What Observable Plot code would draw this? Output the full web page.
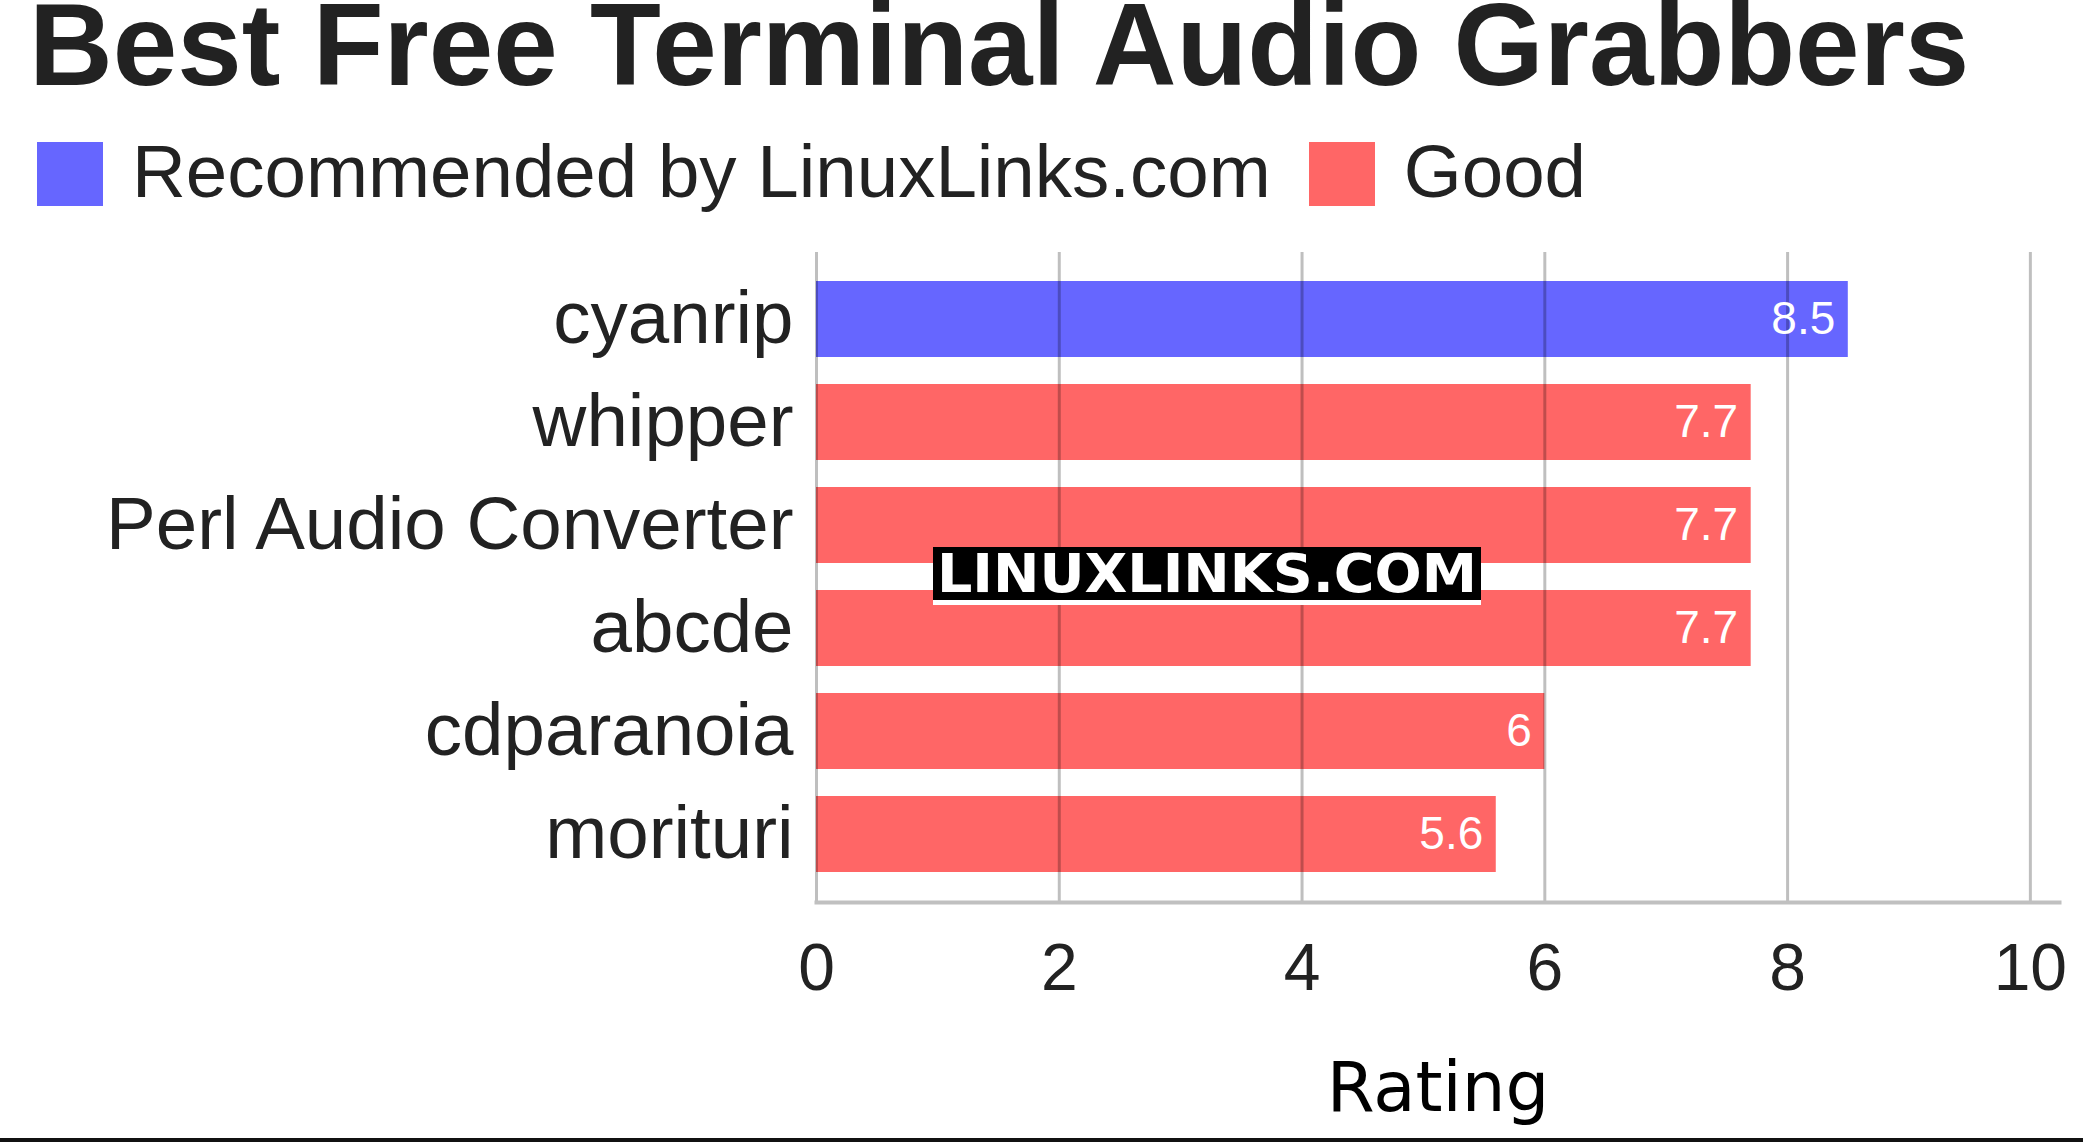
<!DOCTYPE html>
<html>
<head>
<meta charset="utf-8">
<script src="https://cdn.jsdelivr.net/npm/d3@7"></script>
<script src="https://cdn.jsdelivr.net/npm/@observablehq/plot@0.6"></script>
<style>
  html, body { margin: 0; padding: 0; background: #fff; }
  #page { position: relative; width: 2083px; height: 1143px; overflow: hidden; background: #fff; font-family: "Liberation Sans", Arial, sans-serif; }
  #title { position: absolute; left: 29px; top: 0px; font-size: 116px; font-weight: bold; line-height: 0.79; color: #222; white-space: nowrap; }
  #legend { position: absolute; left: 37px; top: 135px; display: flex; align-items: flex-start; }
  .item { display: flex; align-items: flex-start; margin-right: 38px; }
  .sw { width: 66px; height: 64px; margin-top: 7px; margin-right: 29px; }
  .lab { font-size: 74.5px; line-height: 1; color: #222; white-space: nowrap; }
  #chart { position: absolute; left: 0; top: 230px; }
  #wm { position: absolute; left: 933px; top: 547px; width: 548px; height: 53px; background: #000; border-bottom: 5px solid #fff; }
  #wmt { position: absolute; left: 4px; top: 0; color: #fff; font-family: "DejaVu Sans Condensed", "DejaVu Sans", sans-serif; font-stretch: condensed; font-weight: bold; font-size: 54px; line-height: 53px; white-space: nowrap; transform-origin: 0 50%; }
  #bottomline { position: absolute; left: 0; top: 1138px; width: 2083px; height: 4px; background: #111; }
</style>
</head>
<body>
<div id="page">
  <div id="title"></div>
  <div id="legend"></div>
  <div id="chart"></div>
  <div id="wm"><span id="wmt">LINUXLINKS.COM</span></div>
  <div id="bottomline"></div>
</div>
<script>
const titleText = "Best Free Terminal Audio Grabbers";
const tools = ["cyanrip", "whipper", "Perl Audio Converter", "abcde", "cdparanoia", "morituri"];
const ratings = [8.5, 7.7, 7.7, 7.7, 6, 5.6];
const groups = ["Recommended by LinuxLinks.com", "Good", "Good", "Good", "Good", "Good"];
const groupNames = ["Recommended by LinuxLinks.com", "Good"];
const groupColors = ["#6666ff", "#ff6666"];
const xTicks = [0, 2, 4, 6, 8, 10];
const xLabel = "Rating";

document.getElementById("title").textContent = titleText;
const legend = document.getElementById("legend");
groupNames.forEach((g, i) => {
  const item = document.createElement("div");
  item.className = "item";
  const sw = document.createElement("div");
  sw.className = "sw";
  sw.style.background = groupColors[i];
  const lab = document.createElement("div");
  lab.className = "lab";
  lab.textContent = g;
  item.appendChild(sw);
  item.appendChild(lab);
  legend.appendChild(item);
});

// fit watermark text into its box
const wmt = document.getElementById("wmt");
const w = wmt.getBoundingClientRect().width;
wmt.style.transform = `scaleX(${540 / w})`;

const data = tools.map((t, i) => ({tool: t, rating: ratings[i], group: groups[i]}));

const chart = Plot.plot({
  width: 2083,
  height: 906,
  marginTop: 22,
  marginBottom: 234,
  marginLeft: 816,
  marginRight: 24,
  style: {fontFamily: "'Liberation Sans', Arial, sans-serif", color: "#222", background: "transparent"},
  x: {domain: [0, 10.24]},
  y: {domain: tools, padding: 0.26},
  color: {domain: groupNames, range: groupColors},
  marks: [
    Plot.barX(data, {x: "rating", y: "tool", fill: "group"}),
    Plot.ruleX(xTicks, {stroke: "#000", strokeOpacity: 0.25, strokeWidth: 3}),
    Plot.frame({anchor: "bottom", stroke: "#c0c0c0", strokeWidth: 4}),
    Plot.text(data, {x: "rating", y: "tool", text: d => String(d.rating), textAnchor: "end", dx: -13, fill: "white", fontSize: 46}),
    Plot.axisY({fontSize: 74.5, tickSize: 0, tickPadding: 23, label: null}),
    Plot.axisX({ticks: xTicks, tickSize: 0, tickPadding: 41, fontSize: 66, label: null}),
    Plot.text([xLabel], {frameAnchor: "bottom", dy: 208, fontSize: 69, fontFamily: "DejaVu Sans", fill: "#000"})
  ]
});
document.getElementById("chart").appendChild(chart);
</script>
</body>
</html>
